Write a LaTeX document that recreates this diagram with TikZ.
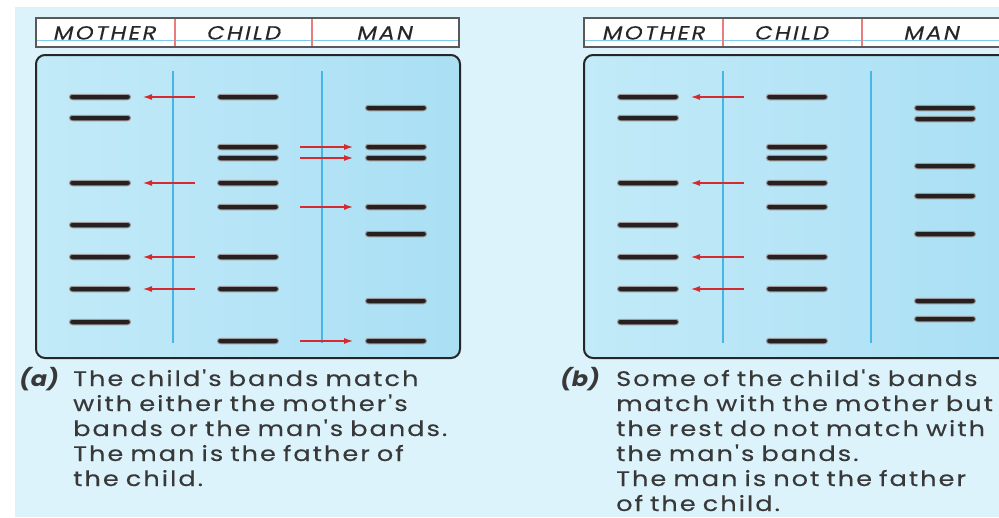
\documentclass[tikz,border=0pt]{standalone}
\usepackage{fontspec}
\usetikzlibrary{arrows.meta}
\newfontfamily\capfont[FakeStretch=1.22,LetterSpace=9.5,WordSpace=0.8,FakeBold=0.3]{Poppins}
\newfontfamily\capboldfont[FakeSlant=0.2,FakeStretch=1.15]{Poppins Bold}
\newfontfamily\headfont[FakeSlant=0.22,FakeStretch=1.2,LetterSpace=12,FakeBold=0.2]{Poppins}
\definecolor{bgblue}{HTML}{DDF3FC}
\definecolor{gelblue}{HTML}{B3E5F7}
\definecolor{gelblue2}{HTML}{AADFF4}
\definecolor{lanec}{HTML}{46B6E6}
\definecolor{bandc}{HTML}{262020}
\definecolor{arrowc}{HTML}{D42A30}
\definecolor{dividc}{HTML}{EE7B7B}
\definecolor{textc}{HTML}{383838}
\tikzset{
  band/.style={rectangle, inner sep=0pt, minimum width=61pt, minimum height=5.5pt,
    rounded corners=2.75pt, fill=bandc, draw=bandc!45, line width=1pt},
  match/.style={draw=arrowc, line width=1.1pt, -{Latex[length=9pt,width=6pt]}},
  toleft/.style={match, shorten <=22pt, shorten >=12pt},
  toright/.style={match, shorten <=21pt, shorten >=12pt},
  lane/.style={draw=lanec, line width=1.8pt},
  gel/.style={draw=black!85, line width=2pt, rounded corners=9pt, left color=gelblue!80, right color=gelblue2},
  header/.style={draw=black!65, line width=1.2pt, fill=white},
  headtext/.style={font=\headfont\fontsize{19}{19}\selectfont, text=black!85, anchor=base},
  caption/.style={font=\capfont\fontsize{21}{25}\selectfont, text=textc, anchor=base west, inner sep=0pt},
  tag/.style={font=\capboldfont\fontsize{21}{25}\selectfont, text=textc, anchor=base west, inner sep=0pt}
}
\begin{document}
\begin{tikzpicture}[x=1pt,y=-1pt]
\useasboundingbox (0,0) rectangle (999,517);
\clip (0,0) rectangle (999,517);
\fill[white] (0,0) rectangle (999,517);
\fill[bgblue] (15,7) rectangle (999,517);

% ---------- panel (a) ----------
\draw[header] (36,18) rectangle (459,47);
\draw[lanec!70, line width=0.8pt] (37,40) -- (458,40);
\draw[dividc, line width=1.2pt] (175,19) -- (175,46);
\draw[dividc, line width=1.2pt] (312,19) -- (312,46);
\node[headtext] (ha1) at (104,39.5) {MOTHER};
\node[headtext] (ha2) at (243,39.5) {CHILD};
\node[headtext] (ha3) at (384,39.5) {MAN};

\draw[gel] (36,55) rectangle (460,358);
\draw[lane] (173,71) -- (173,343);
\draw[lane] (322,71) -- (322,343);

% mother lane
\foreach \y [count=\i] in {97,118,183,225,257,289,322}
  \node[band] (am\i) at (100,\y) {};
% child lane
\foreach \y [count=\i] in {97,147,158,183,207,257,289,341}
  \node[band] (ac\i) at (248,\y) {};
% man lane
\foreach \y [count=\i] in {108,147,158,207,234,301,341}
  \node[band] (an\i) at (396,\y) {};

\draw[toleft] (ac1) -- (am1);
\draw[toleft] (ac4) -- (am3);
\draw[toleft] (ac6) -- (am5);
\draw[toleft] (ac7) -- (am6);
\draw[toright] (ac2) -- (an2);
\draw[toright] (ac3) -- (an3);
\draw[toright] (ac5) -- (an4);
\draw[toright] (ac8) -- (an7);

\node[tag] (tga) at (18,386) {(a)};
\node[caption] (cpa) at (73,386) {\begin{tabular}[t]{@{}l@{}}The child's bands match\\with either the mother's\\bands or the man's bands.\\The man is the father of\\the child.\end{tabular}};

% ---------- panel (b) ----------
\draw[header] (584,18) rectangle (1012,47);
\draw[lanec!70, line width=0.8pt] (585,40) -- (1011,40);
\draw[dividc, line width=1.2pt] (723,19) -- (723,46);
\draw[dividc, line width=1.2pt] (862,19) -- (862,46);
\node[headtext] (hb1) at (653,39.5) {MOTHER};
\node[headtext] (hb2) at (791,39.5) {CHILD};
\node[headtext] (hb3) at (931,39.5) {MAN};

\draw[gel] (584,55) rectangle (1012,358);
\draw[lane] (723,71) -- (723,343);
\draw[lane] (871,71) -- (871,343);

\foreach \y [count=\i] in {97,118,183,225,257,289,322}
  \node[band] (bm\i) at (648,\y) {};
\foreach \y [count=\i] in {97,147,158,183,207,257,289,341}
  \node[band] (bc\i) at (797,\y) {};
\foreach \y [count=\i] in {108,119,166,196,234,301,319}
  \node[band] (bn\i) at (945,\y) {};

\draw[toleft] (bc1) -- (bm1);
\draw[toleft] (bc4) -- (bm3);
\draw[toleft] (bc6) -- (bm5);
\draw[toleft] (bc7) -- (bm6);

\node[tag] (tgb) at (559,386) {(b)};
\node[caption] (cpb) at (616,386) {\begin{tabular}[t]{@{}l@{}}Some of the child's bands\\match with the mother but\\the rest do not match with\\the man's bands.\\The man is not the father\\of the child.\end{tabular}};
\end{tikzpicture}
\end{document}
